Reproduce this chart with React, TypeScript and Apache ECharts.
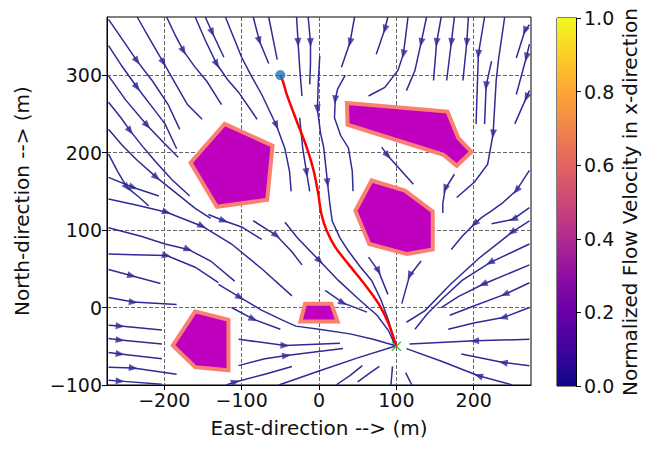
import React, { useEffect, useRef } from "react";
import * as echarts from "echarts";

type P = [number, number];

const xTicks = [-200, -100, 0, 100, 200];
const yTicks = [-100, 0, 100, 200, 300];
const cbTicks = [0, 0.2, 0.4, 0.6, 0.8, 1.0];
const xRange: P = [-274, 274];
const yRange: P = [-100, 375];

const startPoint: P = [-50, 300];
const goalPoint: P = [100, -50];

const pathPoints: P[] = [
  [-50, 300], [-46, 290], [-42, 276], [-29, 241], [-16, 207], [-7, 177], [-1, 147],
  [3, 121], [10, 99], [21, 78], [38, 56], [59, 30], [77, 5], [90, -21], [100, -50],
];

const obstacles: P[][] = [
  [[-122, 237], [-60, 209], [-67, 139], [-132, 130], [-166, 187]],
  [[36, 264], [166, 253], [180, 219], [197, 201], [178, 183], [161, 197], [37, 236]],
  [[68, 164], [111, 151], [147, 124], [147, 75], [114, 69], [65, 82], [47, 125]],
  [[-18, 5], [16, 5], [24, -18], [-24, -18]],
  [[-160, -5], [-117, -16], [-117, -81], [-160, -77], [-189, -49]],
];

const streamlines: P[][] = [
  [[-272, 372], [-250, 340], [-235, 318], [-215, 292], [-195, 262], [-180, 230]],
  [[-235, 375], [-218, 345], [-201, 316], [-185, 288], [-170, 262], [-151, 243]],
  [[-197, 375], [-186, 352], [-175, 331], [-160, 310], [-145, 292], [-126, 262]],
  [[-160, 375], [-147, 345], [-132, 314], [-118, 294], [-104, 278], [-80, 243]],
  [[-147, 375], [-138, 355], [-123, 323]],
  [[-121, 375], [-110, 348], [-100, 323], [-87, 298], [-74, 275], [-55, 235], [-44, 205], [-38, 175], [-36, 150]],
  [[-85, 375], [-77, 344], [-65, 315]],
  [[-65, 375], [-60, 350], [-54, 320]],
  [[-29, 375], [-27, 342], [-25, 310], [-22, 273]],
  [[-14, 375], [-11, 342], [-11, 315], [-12, 288]],
  [[-25, 245], [-21, 205], [-16, 174], [-12, 150]],
  [[1, 325], [-1, 290], [-2, 256], [2, 225], [6, 207], [9, 180], [11, 161], [14, 134], [17, 112], [27, 90], [38, 73], [53, 53], [68, 35], [80, 10], [90, -17], [98, -47]],
  [[46, 375], [40, 342], [29, 310]],
  [[34, 300], [24, 282], [21, 268], [20, 245], [28, 222], [38, 206], [43, 176], [44, 150]],
  [[89, 375], [85, 359], [74, 327]],
  [[115, 375], [112, 350], [109, 327], [102, 306], [85, 284], [64, 273]],
  [[139, 375], [132, 342], [124, 306], [113, 280]],
  [[158, 375], [152, 342], [148, 293]],
  [[175, 375], [171, 342], [165, 293]],
  [[193, 375], [191, 342], [186, 293]],
  [[214, 375], [206, 327], [203, 237]],
  [[223, 318], [216, 286], [214, 237]],
  [[240, 375], [232, 320], [229, 293], [225, 224], [218, 185], [201, 162], [178, 142]],
  [[272, 365], [266, 357], [255, 322]],
  [[272, 340], [268, 323], [255, 275]],
  [[272, 280], [268, 271], [253, 237]],
  [[81, 207], [89, 196], [122, 159]],
  [[175, 172], [163, 153], [160, 134], [160, 122]],
  [[272, 177], [255, 151], [236, 134], [222, 124], [210, 116], [201, 108], [185, 92], [171, 75]],
  [[-272, 338], [-255, 312], [-235, 284], [-215, 258], [-199, 237], [-184, 205]],
  [[-272, 299], [-250, 268], [-222, 235], [-200, 212], [-182, 194]],
  [[-272, 265], [-256, 245], [-244, 228], [-228, 208], [-212, 189], [-190, 165], [-167, 144]],
  [[-272, 230], [-255, 210], [-235, 190], [-210, 168], [-185, 148], [-160, 128], [-140, 115]],
  [[-272, 198], [-260, 175], [-248, 155], [-232, 142], [-220, 131]],
  [[-272, 168], [-240, 155], [-207, 144]],
  [[-272, 140], [-235, 132], [-197, 123], [-151, 105], [-113, 82], [-74, 50], [-35, 15]],
  [[-143, 120], [-123, 112], [-100, 104], [-74, 88]],
  [[-85, 112], [-55, 93], [-35, 72], [-22, 55]],
  [[-44, 110], [-28, 90], [1, 60], [25, 35], [50, 12], [75, -10], [90, -30], [98, -48]],
  [[-272, 103], [-230, 92], [-199, 82], [-169, 75], [-140, 60], [-109, 34]],
  [[-272, 69], [-240, 68], [-197, 67], [-160, 52], [-130, 32]],
  [[-130, 30], [-102, 13], [-75, -3], [-48, -16], [-30, -24], [0, -28], [40, -34], [70, -41], [98, -49]],
  [[-272, 49], [-242, 41], [-205, 31]],
  [[-272, 13], [-240, 7], [-184, 4]],
  [[-272, -23], [-257, -24], [-203, -29]],
  [[-272, -40], [-257, -42], [-203, -47]],
  [[-272, -58], [-257, -60], [-203, -66]],
  [[-272, -77], [-240, -78], [-184, -86]],
  [[-272, -94], [-257, -95], [-203, -99]],
  [[-113, 0], [-85, -15], [-50, -28]],
  [[-104, -41], [-44, -49], [27, -46]],
  [[-104, -75], [-70, -66], [-42, -62], [31, -53]],
  [[-120, -100], [-108, -96], [-70, -86], [-35, -76]],
  [[-52, -100], [0, -82], [50, -65], [98, -50]],
  [[22, -100], [40, -88], [56, -75]],
  [[50, -96], [65, -85], [78, -76]],
  [[93, -100], [94, -88], [95, -76]],
  [[120, -100], [116, -92], [112, -84]],
  [[8, 22], [31, 6], [62, -6]],
  [[64, 65], [77, 47], [89, 17]],
  [[132, 60], [117, 41], [107, 5]],
  [[272, 129], [251, 114], [223, 108]],
  [[272, 112], [249, 97], [206, 63], [170, 30], [137, -4], [113, -19]],
  [[272, 82], [221, 58], [185, 35], [160, 12], [140, -8], [124, -28]],
  [[272, 55], [212, 30], [180, 14], [158, 0]],
  [[272, 32], [240, 17], [200, 2], [169, -10]],
  [[272, 0], [238, -13], [200, -20], [167, -28]],
  [[272, -41], [201, -43], [117, -47]],
  [[272, -75], [238, -71], [184, -60]],
  [[250, -100], [206, -88], [160, -70], [113, -53]],
];

const arrowAt: number[][] = [
  [2], [2], [2], [2], [1], [5], [1], [], [1], [1], [2], [2, 6], [1], [2], [1], [2], [1], [1], [1], [1], [1], [1], [3],
  [1], [1], [1], [1], [1], [1, 5], [2], [2], [2], [3], [2], [1], [2, 3], [1], [1], [2], [3], [2], [1], [1], [1], [1],
  [1], [1], [1], [1], [1], [1], [2], [1], [], [], [], [], [], [1], [1], [1], [1], [1], [1], [1], [1], [1], [1], [1], [1],
];

const plasmaStops = ["#0d0887", "#41049d", "#6a00a8", "#8f0da4", "#b12a90", "#cc4778", "#e16462", "#f2844b", "#fca636", "#fcce25", "#f0f921"];

const streamColor = "#302a96";
const font = "DejaVu Sans";

const fmtMinus = (v: number) => (v < 0 ? "\u2212" + Math.abs(v) : String(v));

export default function App() {
  const ref = useRef<HTMLDivElement>(null);

  useEffect(() => {
    if (!ref.current) return;
    const chart = echarts.init(ref.current, undefined, { renderer: "svg" });

    const arrowData: any[] = [];
    streamlines.forEach((pts, i) => {
      (arrowAt[i] || []).forEach((k) => {
        const a = pts[Math.max(0, k - 1)];
        const b = pts[Math.min(pts.length - 1, k + 1)];
        const ang = (Math.atan2(b[1] - a[1], b[0] - a[0]) * 180) / Math.PI;
        arrowData.push({ value: pts[k], symbolRotate: ang - 90 });
      });
    });

    const gradient = new echarts.graphic.LinearGradient(
      0, 0, 0, 1,
      plasmaStops.slice().reverse().map((c, i) => ({ offset: i / (plasmaStops.length - 1), color: c }))
    );

    const axisText = { fontFamily: font, fontSize: 19, color: "#111" };
    const nameText = { fontFamily: font, fontSize: 20, color: "#111" };

    chart.setOption({
      animation: false,
      grid: [
        { left: 107, top: 17, width: 424, height: 368, show: true, borderColor: "#000", borderWidth: 1, backgroundColor: "#fff" },
        { left: 557, top: 18, width: 19, height: 368, show: true, borderColor: "#000", borderWidth: 1 },
      ],
      xAxis: [
        {
          gridIndex: 0, type: "value", min: xRange[0], max: xRange[1],
          name: "East-direction --> (m)", nameLocation: "middle", nameGap: 33, nameTextStyle: nameText,
          axisLine: { show: true, onZero: false, lineStyle: { color: "#000" } },
          axisTick: { show: true, length: 5, customValues: xTicks, lineStyle: { color: "#000" } },
          axisLabel: { ...axisText, margin: 5, customValues: xTicks, formatter: fmtMinus },
          splitLine: { show: true, lineStyle: { color: "#555", type: [4, 2], width: 0.9 } },
        },
        { gridIndex: 1, type: "category", data: ["v"], show: false },
      ],
      yAxis: [
        {
          gridIndex: 0, type: "value", min: yRange[0], max: yRange[1],
          name: "North-direction --> (m)", nameLocation: "middle", nameGap: 75, nameTextStyle: nameText,
          axisLine: { show: true, onZero: false, lineStyle: { color: "#000" } },
          axisTick: { show: true, length: 5, customValues: yTicks, lineStyle: { color: "#000" } },
          axisLabel: { ...axisText, margin: 5, customValues: yTicks, formatter: fmtMinus },
          splitLine: { show: true, lineStyle: { color: "#555", type: [4, 2], width: 0.9 } },
        },
        {
          gridIndex: 1, type: "value", min: 0, max: 1, interval: 0.2, position: "right",
          name: "Normalized Flow Velocity in x-direction", nameLocation: "middle", nameGap: 44, nameTextStyle: nameText,
          axisLine: { show: true, lineStyle: { color: "#000" } },
          axisTick: { show: true, length: 5, lineStyle: { color: "#000" } },
          axisLabel: { ...axisText, margin: 8, formatter: (v: number) => v.toFixed(1) },
          splitLine: { show: false },
        },
      ],
      series: [
        {
          type: "bar", xAxisIndex: 1, yAxisIndex: 1, data: cbTicks.length ? [1] : [],
          barWidth: "100%", itemStyle: { color: gradient }, silent: true,
        },
        {
          type: "lines", coordinateSystem: "cartesian2d", polyline: true, xAxisIndex: 0, yAxisIndex: 0, z: 2,
          lineStyle: { color: streamColor, width: 1.5, opacity: 1 },
          data: streamlines.map((pts) => ({ coords: pts })),
          silent: true,
        },
        {
          type: "scatter", xAxisIndex: 0, yAxisIndex: 0, z: 3, symbol: "triangle", symbolSize: [7, 9],
          itemStyle: { color: streamColor }, data: arrowData, silent: true,
        },
        {
          type: "custom", xAxisIndex: 0, yAxisIndex: 0, z: 4,
          data: obstacles.map((_, i) => [i]),
          renderItem: (params: any, api: any) => {
            const poly = obstacles[params.dataIndex];
            return {
              type: "polygon",
              shape: { points: poly.map((p) => api.coord(p)) },
              style: { fill: "#bf00bf", stroke: "#fa8072", lineWidth: 4, lineJoin: "miter" },
            };
          },
          silent: true,
        },
        {
          type: "line", xAxisIndex: 0, yAxisIndex: 0, z: 5, data: pathPoints, smooth: 0.3,
          showSymbol: false, lineStyle: { color: "#ff0000", width: 2.5 }, silent: true,
        },
        {
          type: "scatter", xAxisIndex: 0, yAxisIndex: 0, z: 6, symbol: "circle", symbolSize: 10,
          itemStyle: { color: "#1f77b4" }, data: [startPoint], silent: true,
        },
        {
          type: "scatter", xAxisIndex: 0, yAxisIndex: 0, z: 6, symbol: "path://M0,0L10,10M10,0L0,10",
          symbolSize: 9, itemStyle: { color: "none", borderColor: "#2ca02c", borderWidth: 1.5 },
          data: [goalPoint], silent: true,
        },
      ],
    });

    return () => chart.dispose();
  }, []);

  return <div ref={ref} style={{ position: "absolute", left: 0, top: 0, width: 653, height: 450, background: "#fff" }} />;
}
